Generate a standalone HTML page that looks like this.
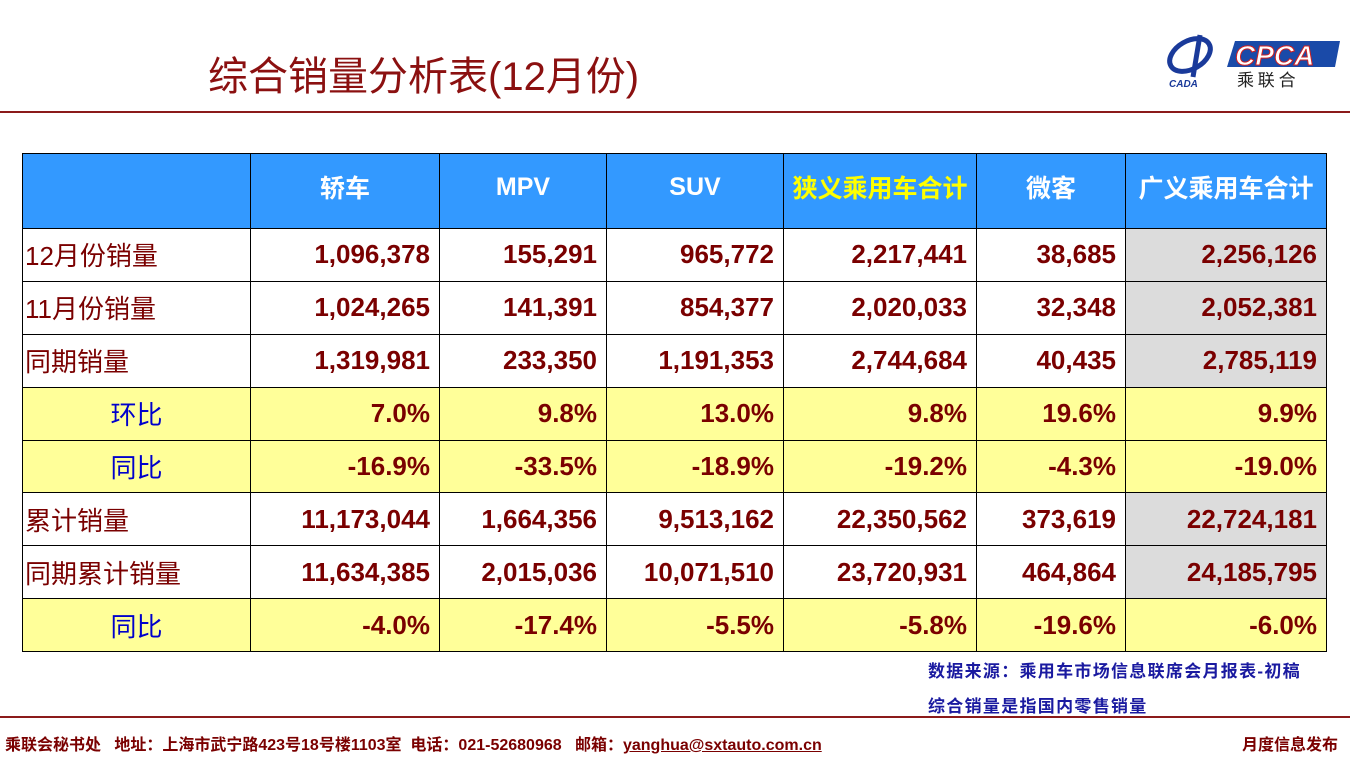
<!DOCTYPE html>
<html><head><meta charset="utf-8"><style>
body{margin:0;width:1350px;height:759px;background:#fff;position:relative;overflow:hidden;font-family:"Liberation Sans","Noto Sans CJK SC",sans-serif}
.t{position:absolute;left:208px;top:44px;font-size:40px;color:#8b1010;white-space:nowrap}
.l1{position:absolute;left:0;top:111px;width:1350px;height:2px;background:#8b1a1a}
.l2{position:absolute;left:0;top:716px;width:1350px;height:2px;background:#8b1a1a}
table{position:absolute;left:22px;top:153px;width:1304px;border-collapse:collapse;table-layout:fixed}
td{border:1px solid #000;height:52.9px;padding:0 9px;font-size:26px;font-weight:bold;color:#7a0000;text-align:right;white-space:nowrap;overflow:hidden;box-sizing:border-box}
tr.h td{height:75px;background:#3399ff;color:#fff;text-align:center;font-size:25px;padding:0 0 8px 0}
td.lab{text-align:left;padding-left:2px;font-weight:normal;color:#7a0000}
td.c{text-align:center;color:#0000cc;font-weight:normal}
tr.y td{background:#ffff99}
td.g{background:#dcdcdc}
.f{position:absolute;top:731px;font-size:16px;font-weight:bold;color:#7a0000;white-space:nowrap}
.n{position:absolute;left:928px;font-size:17px;font-weight:bold;color:#1a1aa0;white-space:nowrap;letter-spacing:1.3px}
</style></head><body>
<div class="t">综合销量分析表(12月份)</div>
<svg style="position:absolute;left:1165px;top:33px" width="180" height="58">
<ellipse cx="25" cy="22" rx="22" ry="14" fill="none" stroke="#1a3a9a" stroke-width="5" transform="rotate(-30 25 22)"/>
<path d="M35 2 L28 44" stroke="#1a3a9a" stroke-width="5"/>
<text x="4" y="54" font-size="10" font-style="italic" font-weight="bold" fill="#1a3a9a" font-family="Liberation Sans">CADA</text>
<polygon points="70,8 175,8 170,34 62,34" fill="#1a4aa8"/>
<text x="70" y="32" font-size="28" font-style="italic" font-weight="bold" fill="#fff" stroke="#d02020" stroke-width="1" font-family="Liberation Sans">CPCA</text>
<text x="72" y="53" font-size="17" fill="#222" font-family="Noto Sans CJK SC">乘 联 合</text>
</svg>
<div class="l1"></div>
<table>
<colgroup><col style="width:228px"><col style="width:189px"><col style="width:167px"><col style="width:177px"><col style="width:193px"><col style="width:149px"><col style="width:201px"></colgroup>
<tr class="h"><td></td><td>轿车</td><td>MPV</td><td>SUV</td><td style="color:#ffff00">狭义乘用车合计</td><td>微客</td><td>广义乘用车合计</td></tr>
<tr><td class="lab">12月份销量</td><td>1,096,378</td><td>155,291</td><td>965,772</td><td>2,217,441</td><td>38,685</td><td class="g">2,256,126</td></tr>
<tr><td class="lab">11月份销量</td><td>1,024,265</td><td>141,391</td><td>854,377</td><td>2,020,033</td><td>32,348</td><td class="g">2,052,381</td></tr>
<tr><td class="lab">同期销量</td><td>1,319,981</td><td>233,350</td><td>1,191,353</td><td>2,744,684</td><td>40,435</td><td class="g">2,785,119</td></tr>
<tr class="y"><td class="c">环比</td><td>7.0%</td><td>9.8%</td><td>13.0%</td><td>9.8%</td><td>19.6%</td><td>9.9%</td></tr>
<tr class="y"><td class="c">同比</td><td>-16.9%</td><td>-33.5%</td><td>-18.9%</td><td>-19.2%</td><td>-4.3%</td><td>-19.0%</td></tr>
<tr><td class="lab">累计销量</td><td>11,173,044</td><td>1,664,356</td><td>9,513,162</td><td>22,350,562</td><td>373,619</td><td class="g">22,724,181</td></tr>
<tr><td class="lab">同期累计销量</td><td>11,634,385</td><td>2,015,036</td><td>10,071,510</td><td>23,720,931</td><td>464,864</td><td class="g">24,185,795</td></tr>
<tr class="y"><td class="c">同比</td><td>-4.0%</td><td>-17.4%</td><td>-5.5%</td><td>-5.8%</td><td>-19.6%</td><td>-6.0%</td></tr>
</table>
<div class="n" style="top:657px">数据来源：乘用车市场信息联席会月报表-初稿</div>
<div class="n" style="top:692px">综合销量是指国内零售销量</div>
<div class="l2"></div>
<div class="f" style="left:5px">乘联会秘书处&nbsp;&nbsp; 地址：上海市武宁路423号18号楼1103室&nbsp; 电话：021-52680968&nbsp;&nbsp; 邮箱：<u>yanghua@sxtauto.com.cn</u></div>
<div class="f" style="left:1242px">月度信息发布</div>
</body></html>
